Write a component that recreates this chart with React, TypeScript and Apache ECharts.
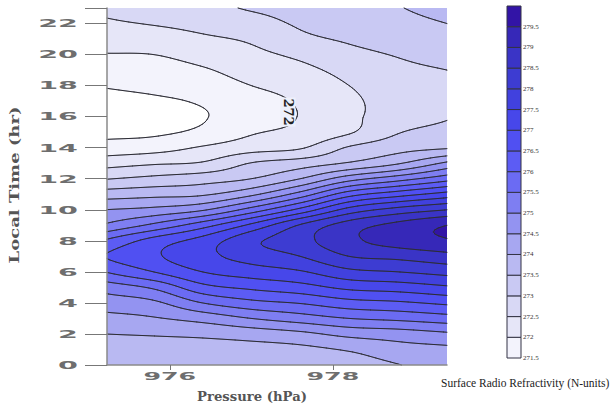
import React, { useEffect, useRef } from "react";
import * as echarts from "echarts";

// Grid of surface radio refractivity (N-units).
// One array per pressure column (hPa), values for local time 0..23 hr.
const pressureCols = [975.2, 975.8, 976.4, 977.0, 977.6, 978.2, 978.8, 979.4];
const hourRows = [0, 1, 2, 3, 4, 5, 6, 7, 8, 9, 10, 11, 12, 13, 14, 15, 16, 17, 18, 19, 20, 21, 22, 23];

const n9752 = [273.6, 273.8, 274.0, 274.35, 274.73, 275.21, 276.0, 276.5, 276.05, 275.07, 274.5, 273.75, 272.97, 272.3, 271.7, 271.38, 271.3, 271.36, 271.53, 271.75, 271.98, 272.2, 272.43, 272.6];
const n9758 = [273.6, 273.8, 274.04, 274.46, 274.9, 275.58, 276.5, 276.92, 276.7, 275.62, 274.64, 273.85, 273.13, 272.44, 271.8, 271.42, 271.35, 271.43, 271.62, 271.8, 272.0, 272.26, 272.53, 272.75];
const n9764 = [273.6, 273.8, 274.1, 274.68, 275.5, 276.33, 277.0, 277.35, 277.2, 276.29, 274.94, 273.93, 273.28, 272.55, 272.05, 271.6, 271.47, 271.55, 271.75, 271.95, 272.18, 272.42, 272.65, 272.85];
const n9770 = [273.6, 273.82, 274.22, 275.0, 275.85, 276.6, 277.25, 277.7, 277.88, 277.12, 275.71, 274.39, 273.5, 273.02, 272.29, 271.95, 271.77, 271.8, 272.0, 272.2, 272.38, 272.57, 272.82, 273.05];
const n9776 = [273.65, 273.88, 274.38, 275.25, 276.03, 276.8, 277.45, 278.0, 278.33, 278.05, 276.65, 275.21, 274.0, 273.25, 272.45, 272.12, 272.02, 272.06, 272.2, 272.38, 272.6, 272.9, 273.05, 273.15];
const n9782 = [273.75, 274.05, 274.65, 275.5, 276.31, 277.12, 277.87, 278.5, 278.88, 278.75, 277.69, 276.29, 274.79, 273.55, 273.05, 272.45, 272.4, 272.42, 272.5, 272.65, 272.87, 273.05, 273.13, 273.2];
const n9788 = [273.98, 274.3, 274.76, 275.62, 276.42, 277.23, 278.0, 278.63, 279.22, 279.15, 278.19, 276.79, 275.29, 273.95, 273.32, 272.97, 272.72, 272.65, 272.72, 272.88, 273.03, 273.18, 273.33, 273.47];
const n9794 = [274.3, 274.4, 274.92, 275.78, 276.6, 277.42, 278.17, 278.82, 279.45, 279.5, 278.5, 277.2, 275.8, 274.6, 273.45, 273.18, 272.95, 272.8, 272.85, 273.0, 273.17, 273.33, 273.5, 273.7];

const refractivity = [n9752, n9758, n9764, n9770, n9776, n9782, n9788, n9794];

const contourLevels = [271.5, 272, 272.5, 273, 273.5, 274, 274.5, 275, 275.5, 276, 276.5, 277, 277.5, 278, 278.5, 279, 279.5];
const binColors = [
  "#ffffff", "#f3f3fc", "#e6e6f8", "#d8d8f5", "#c9c9f3", "#b9b9f2",
  "#a7a7f1", "#9393f1", "#7e7ef2", "#6b6bf3", "#5c5cf4", "#5050f2",
  "#4747ea", "#4141de", "#3d3cd2", "#3a34c6", "#3628b8", "#3214a6",
];

const xTickValues = [976, 978];
const yTickValues = [0, 2, 4, 6, 8, 10, 12, 14, 16, 18, 20, 22];
const contourLabelText = "272";
const contourLabelAt = [977.45, 16.3];

const X_MIN = 975.23;
const X_MAX = 979.4;

function cellValue(j: number, k: number): number {
  const nc = refractivity.length;
  const nr = hourRows.length;
  if (j < 0) return 2 * cellValue(0, k) - cellValue(1, k);
  if (j >= nc) return 2 * cellValue(nc - 1, k) - cellValue(nc - 2, k);
  if (k < 0) return 2 * cellValue(j, 0) - cellValue(j, 1);
  if (k >= nr) return 2 * cellValue(j, nr - 1) - cellValue(j, nr - 2);
  return refractivity[j][k];
}

function cr(p0: number, p1: number, p2: number, p3: number, s: number) {
  return p1 + 0.5 * s * (p2 - p0 + s * (2 * p0 - 5 * p1 + 4 * p2 - p3 + s * (3 * (p1 - p2) + p3 - p0)));
}

function fieldValue(p: number, t: number): number {
  const nc = pressureCols.length;
  const nr = hourRows.length;
  const fx = (p - pressureCols[0]) / (pressureCols[1] - pressureCols[0]);
  const fy = (t - hourRows[0]) / (hourRows[1] - hourRows[0]);
  const i = Math.min(Math.max(Math.floor(fx), 0), nc - 2);
  const k = Math.min(Math.max(Math.floor(fy), 0), nr - 2);
  const s = fx - i;
  const u = fy - k;
  const rows: number[] = [];
  for (let dk = -1; dk <= 2; dk++) {
    rows.push(cr(cellValue(i - 1, k + dk), cellValue(i, k + dk), cellValue(i + 1, k + dk), cellValue(i + 2, k + dk), s));
  }
  return cr(rows[0], rows[1], rows[2], rows[3], u);
}

function binOf(v: number) {
  let b = 0;
  for (let i = 0; i < contourLevels.length; i++) if (v >= contourLevels[i]) b = i + 1;
  return b;
}

function renderField(params: any, api: any) {
  const cs = params.coordSys;
  const x0 = Math.round(cs.x);
  const y0 = Math.round(cs.y);
  const w = Math.round(cs.width);
  const h = Math.round(cs.height);
  const a = api.coord([xTickValues[0], yTickValues[0]]);
  const b = api.coord([xTickValues[1], yTickValues[yTickValues.length - 1]]);
  const kx = (xTickValues[1] - xTickValues[0]) / (b[0] - a[0]);
  const ky = (yTickValues[yTickValues.length - 1] - yTickValues[0]) / (b[1] - a[1]);
  const toP = (px: number) => xTickValues[0] + (px - a[0]) * kx;
  const toT = (py: number) => yTickValues[0] + (py - a[1]) * ky;

  // filled bands, pixel rows merged into runs
  const fills: string[] = binColors.map(() => "");
  const colP: number[] = [];
  for (let c = 0; c < w; c++) colP.push(toP(x0 + c + 0.5));
  for (let r = 0; r < h; r++) {
    const t = toT(y0 + r + 0.5);
    let start = 0;
    let cur = binOf(fieldValue(colP[0], t));
    for (let c = 1; c <= w; c++) {
      const bn = c < w ? binOf(fieldValue(colP[c], t)) : -1;
      if (bn !== cur) {
        const len = c - start;
        fills[cur] += `M${x0 + start} ${y0 + r}h${len}v1h${-len}Z`;
        start = c;
        cur = bn;
      }
    }
  }

  // contour lines by marching squares
  const step = 2;
  const nx = Math.ceil(w / step);
  const ny = Math.ceil(h / step);
  const gx: number[] = [];
  const gy: number[] = [];
  for (let i = 0; i <= nx; i++) gx.push(Math.min(x0 + i * step, x0 + w));
  for (let j = 0; j <= ny; j++) gy.push(Math.min(y0 + j * step, y0 + h));
  const V: number[][] = [];
  for (let j = 0; j <= ny; j++) {
    const row: number[] = [];
    const t = toT(gy[j]);
    for (let i = 0; i <= nx; i++) row.push(fieldValue(toP(gx[i]), t));
    V.push(row);
  }
  let lines = "";
  const f = (n: number) => n.toFixed(2);
  for (const L of contourLevels) {
    for (let j = 0; j < ny; j++) {
      for (let i = 0; i < nx; i++) {
        const tl = V[j][i], tr = V[j][i + 1], br = V[j + 1][i + 1], bl = V[j + 1][i];
        const xa = gx[i], xb = gx[i + 1], ya = gy[j], yb = gy[j + 1];
        const pts: number[][] = [];
        const edge = (v1: number, v2: number, p1: number[], p2: number[]) => {
          if ((v1 >= L) !== (v2 >= L)) {
            const s = (L - v1) / (v2 - v1);
            pts.push([p1[0] + (p2[0] - p1[0]) * s, p1[1] + (p2[1] - p1[1]) * s]);
          } else pts.push(null as any);
        };
        edge(tl, tr, [xa, ya], [xb, ya]);
        edge(tr, br, [xb, ya], [xb, yb]);
        edge(br, bl, [xb, yb], [xa, yb]);
        edge(bl, tl, [xa, yb], [xa, ya]);
        const got = pts.filter((q) => q);
        if (got.length === 2) {
          lines += `M${f(got[0][0])} ${f(got[0][1])}L${f(got[1][0])} ${f(got[1][1])}`;
        } else if (got.length === 4) {
          const center = (tl + tr + br + bl) / 4;
          const [T, R, B, Lf] = pts;
          if ((center >= L) === (tl >= L)) {
            lines += `M${f(T[0])} ${f(T[1])}L${f(R[0])} ${f(R[1])}M${f(B[0])} ${f(B[1])}L${f(Lf[0])} ${f(Lf[1])}`;
          } else {
            lines += `M${f(T[0])} ${f(T[1])}L${f(Lf[0])} ${f(Lf[1])}M${f(R[0])} ${f(R[1])}L${f(B[0])} ${f(B[1])}`;
          }
        }
      }
    }
  }

  const children: any[] = [];
  fills.forEach((d, idx) => {
    if (d) children.push({ type: "path", shape: { pathData: d }, style: { fill: binColors[idx], stroke: null } });
  });
  children.push({
    type: "path",
    shape: { pathData: lines },
    style: { fill: null, stroke: "#2d2d36", lineWidth: 1, lineCap: "round" },
  });
  return { type: "group", children };
}

function renderColorbar(params: any, api: any) {
  const lo = api.value(0);
  const idx = api.value(1);
  const p1 = api.coord([0, lo]);
  const p2 = api.coord([1, lo + 0.5]);
  return {
    type: "rect",
    shape: { x: p1[0], y: p2[1], width: p2[0] - p1[0], height: p1[1] - p2[1] },
    style: { fill: binColors[idx], stroke: "#333344", lineWidth: 1 },
  };
}

export default function App() {
  const ref = useRef<HTMLDivElement>(null);
  useEffect(() => {
    if (!ref.current) return;
    const chart = echarts.init(ref.current, null, { renderer: "svg" });
    const axisColor = "#8a8a8a";
    const option: any = {
      animation: false,
      backgroundColor: "#ffffff",
      grid: [
        { left: 107, top: 8, width: 340, height: 357 },
        { left: 507, top: 6, width: 14, height: 352 },
      ],
      xAxis: [
        {
          gridIndex: 0, type: "value", min: X_MIN, max: X_MAX, z: 10,
          axisLine: { show: true, lineStyle: { color: axisColor, width: 1.5 } },
          axisTick: { show: true, customValues: xTickValues, length: 5, lineStyle: { color: "#777" } },
          axisLabel: { show: false }, splitLine: { show: false },
        },
        { gridIndex: 1, type: "value", min: 0, max: 1, show: false },
      ],
      yAxis: [
        {
          gridIndex: 0, type: "value", min: 0, max: 23, interval: 2, z: 10,
          axisLine: { show: true, lineStyle: { color: axisColor, width: 1.5 } },
          axisTick: { show: true, length: 22, lineStyle: { color: "#777" } },
          axisLabel: { show: false }, splitLine: { show: false },
        },
        {
          gridIndex: 1, type: "value", min: 271.5, max: 280, interval: 0.5, position: "right",
          axisLine: { show: false }, axisTick: { show: false }, splitLine: { show: false },
          axisLabel: {
            fontSize: 7, fontFamily: "Liberation Serif", color: "#333", margin: 2,
            formatter: (v: number) => (v >= 280 ? "" : String(v)),
          },
        },
      ],
      series: [
        {
          type: "custom", xAxisIndex: 0, yAxisIndex: 0, renderItem: renderField,
          data: [[977, 10]], silent: true, z: 2,
        },
        {
          type: "custom", xAxisIndex: 1, yAxisIndex: 1, renderItem: renderColorbar,
          data: contourLevels.map((lv, i) => [lv, i + 1]), silent: true,
        },
      ],
    };
    chart.setOption(option);

    const left = chart.convertToPixel({ gridIndex: 0 }, [X_MIN, 0]) as number[];
    const elements: any[] = [];
    yTickValues.forEach((v) => {
      const p = chart.convertToPixel({ gridIndex: 0 }, [X_MIN, v]) as number[];
      elements.push({
        type: "text", x: left[0] - 29, y: p[1], scaleX: 2.6, z: 20,
        style: { text: String(v), align: "right", verticalAlign: "middle", font: 'bold 11px "DejaVu Sans"', fill: "#6e6e6e" },
      });
    });
    xTickValues.forEach((v) => {
      const p = chart.convertToPixel({ gridIndex: 0 }, [v, 0]) as number[];
      elements.push({
        type: "text", x: p[0], y: p[1] + 11, scaleX: 2.3, z: 20,
        style: { text: String(v), align: "center", verticalAlign: "middle", font: 'bold 11px "DejaVu Sans"', fill: "#6e6e6e" },
      });
    });
    const lp = chart.convertToPixel({ gridIndex: 0 }, contourLabelAt) as number[];
    elements.push({
      type: "text", x: lp[0], y: lp[1], rotation: -Math.PI / 2, z: 20,
      style: {
        text: contourLabelText, align: "center", verticalAlign: "middle",
        font: 'bold 13px "DejaVu Serif"', fill: "#222", backgroundColor: "#eef0fb", padding: [1, 1],
      },
    });
    elements.push({
      type: "text", x: 252, y: 397, scaleX: 1.1, z: 20,
      style: { text: "Pressure (hPa)", align: "center", verticalAlign: "middle", font: 'bold 12px "DejaVu Serif"', fill: "#555" },
    });
    elements.push({
      type: "text", x: 15, y: 185, rotation: Math.PI / 2, scaleX: 1.5, z: 20,
      style: { text: "Local Time (hr)", align: "center", verticalAlign: "middle", font: 'bold 12px "DejaVu Serif"', fill: "#555" },
    });
    elements.push({
      type: "text", x: 441, y: 383, z: 20,
      style: { text: "Surface Radio Refractivity (N-units)", align: "left", verticalAlign: "middle", font: '11.5px "Liberation Serif"', fill: "#222" },
    });
    chart.setOption({ graphic: { elements } });

    return () => chart.dispose();
  }, []);
  return <div ref={ref} style={{ position: "fixed", left: 0, top: 0, width: 610, height: 408 }} />;
}
